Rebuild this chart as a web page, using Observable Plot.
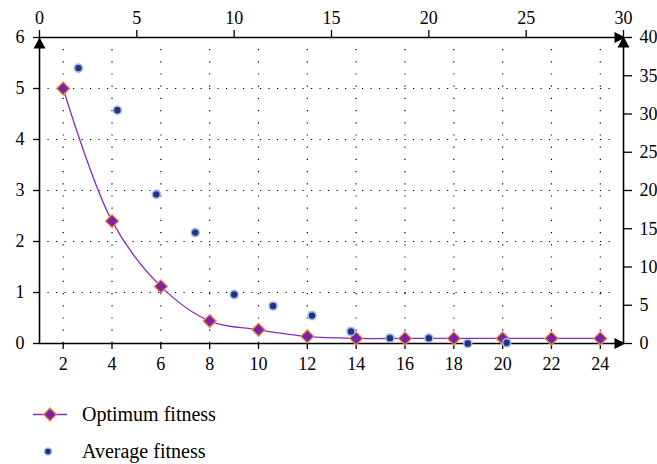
<!DOCTYPE html>
<html>
<head>
<meta charset="utf-8">
<script src="https://cdn.jsdelivr.net/npm/d3@7"></script>
<script src="https://cdn.jsdelivr.net/npm/@observablehq/plot@0.6"></script>
</head>
<body style="margin:0">
<div id="wrap" style="position:relative;width:657px;height:464px;overflow:hidden"></div>
<script>
// ---- data ----
const generations = [2, 4, 6, 8, 10, 12, 14, 16, 18, 20, 22, 24];          // bottom axis
const optimumFitness = [5.0, 2.40, 1.12, 0.44, 0.27, 0.14, 0.10, 0.10, 0.10, 0.10, 0.10, 0.10]; // left axis
const averageX = [2, 4, 6, 8, 10, 12, 14, 16, 18, 20, 22, 24];           // top axis
const averageFitness = [36.0, 30.5, 19.5, 14.5, 6.4, 4.9, 3.65, 1.57, 0.7, 0.7, 0.0, 0.1]; // right axis

const bottomTicks = [2, 4, 6, 8, 10, 12, 14, 16, 18, 20, 22, 24];
const leftTicks = [0, 1, 2, 3, 4, 5, 6];
const topTicks = [0, 5, 10, 15, 20, 25, 30];
const rightTicks = [0, 5, 10, 15, 20, 25, 30, 35, 40];
const gridY = [1, 2, 3, 4, 5];
const seriesNames = ["Optimum fitness", "Average fitness"];

const optimumData = generations.map((g, i) => ({x: g, y: optimumFitness[i]}));
const averageData = averageX.map((g, i) => ({x: g, y: averageFitness[i]}));

const W = 657, H = 380;
const margins = {marginTop: 37, marginRight: 34, marginBottom: 37, marginLeft: 39};
const xBottomDomain = [1.03, 24.95];
const FONT = '"Liberation Serif", monospace';
const style = {fontFamily: FONT, fontSize: "18px", background: "transparent", overflow: "visible", color: "#000", position: "absolute", left: "0px", top: "0px"};
const fmt = d => String(d);

const LINE = "#8a2bbf", DFILL = "#7a22a8", DSTROKE = "#f0913a";
const DOTFILL = "#283080", DOTSTROKE = "#92bce8";

// custom arrow-head symbols with the tip at the origin
const arrowUp = {draw(ctx) { ctx.moveTo(0, 0); ctx.lineTo(-6, 11); ctx.lineTo(6, 11); ctx.closePath(); }};
const arrowRight = {draw(ctx) { ctx.moveTo(0, 0); ctx.lineTo(-11, -5.5); ctx.lineTo(-11, 5.5); ctx.closePath(); }};
const diamond = {draw(ctx) { ctx.moveTo(0, -6.5); ctx.lineTo(6.5, 0); ctx.lineTo(0, 6.5); ctx.lineTo(-6.5, 0); ctx.closePath(); }};

const wrap = document.getElementById("wrap");

// ---- layer 1: bottom / left scales, optimum fitness ----
const p1 = Plot.plot({
  width: W, height: H, ...margins, style,
  x: {type: "linear", domain: xBottomDomain},
  y: {type: "linear", domain: [0, 6]},
  marks: [
    Plot.ruleX(bottomTicks, {stroke: "#000", strokeWidth: 1.2, strokeDasharray: "1.2,11", strokeDashoffset: -12}),
    Plot.ruleY(gridY, {x1: xBottomDomain[0], x2: 24.7, stroke: "#000", strokeWidth: 1.2, strokeDasharray: "1.2,7.3"}),
    Plot.axisX({anchor: "bottom", ticks: bottomTicks, tickFormat: fmt, tickSize: 6, tickPadding: 8, label: null, strokeWidth: 1.3}),
    Plot.axisY({anchor: "left", ticks: leftTicks, tickFormat: fmt, tickSize: 6, tickPadding: 9, label: null, strokeWidth: 1.3}),
    Plot.ruleX([xBottomDomain[0]], {stroke: "#000", strokeWidth: 1.6}),
    Plot.ruleY([0], {x1: xBottomDomain[0], x2: 24.7, stroke: "#000", strokeWidth: 1.6}),
    Plot.line(optimumData, {x: "x", y: "y", stroke: LINE, strokeWidth: 1.3, curve: "catmull-rom"}),
    Plot.dot(optimumData, {x: "x", y: "y", symbol: diamond, fill: DFILL, stroke: DSTROKE, strokeWidth: 1.3, r: 6}),
    Plot.dot([{x: xBottomDomain[0], y: 6}], {x: "x", y: "y", symbol: arrowUp, fill: "#000", stroke: "none"}),
    Plot.dot([{x: xBottomDomain[1], y: 0}], {x: "x", y: "y", symbol: arrowRight, fill: "#000", stroke: "none", dx: 2})
  ]
});
wrap.appendChild(p1);

// ---- layer 2: top / right scales, average fitness ----
const p2 = Plot.plot({
  width: W, height: H, ...margins, style,
  x: {type: "linear", domain: [0, 30]},
  y: {type: "linear", domain: [0, 40]},
  marks: [
    Plot.axisX({anchor: "top", ticks: topTicks, tickFormat: fmt, tickSize: 8, tickPadding: 6, label: null, strokeWidth: 1.3}),
    Plot.axisY({anchor: "right", ticks: rightTicks, tickFormat: fmt, tickSize: 8, tickPadding: 8, label: null, strokeWidth: 1.3}),
    Plot.ruleX([30], {stroke: "#000", strokeWidth: 1.6}),
    Plot.ruleY([40], {x1: 0, x2: 29.6, stroke: "#000", strokeWidth: 1.6}),
    Plot.dot(averageData, {x: "x", y: "y", r: 4, fill: DOTFILL, stroke: DOTSTROKE, strokeWidth: 1.6}),
    Plot.dot([{x: 30, y: 40}], {x: "x", y: "y", symbol: arrowRight, fill: "#000", stroke: "none", dx: 2, dy: 0}),
    Plot.dot([{x: 30, y: 40}], {x: "x", y: "y", symbol: arrowUp, fill: "#000", stroke: "none", dy: -1})
  ]
});
wrap.appendChild(p2);

// ---- legend (HTML labels, SVG swatches) ----
const legendDiv = document.createElement("div");
legendDiv.style.position = "absolute"; legendDiv.style.left = "0px"; legendDiv.style.top = "395px";
legendDiv.style.width = "300px"; legendDiv.style.height = "69px";
wrap.appendChild(legendDiv);
const sw = d3.select(legendDiv).append("svg").attr("width", 80).attr("height", 69)
  .style("position", "absolute").style("left", "0px").style("top", "0px");
const g1 = sw.append("g").attr("transform", "translate(0,19.5)");
g1.append("line").attr("x1", 33).attr("x2", 67).attr("stroke", LINE).attr("stroke-width", 1.3);
g1.append("path").attr("d", "M50,-6.5L56.5,0L50,6.5L43.5,0Z").attr("fill", DFILL).attr("stroke", DSTROKE).attr("stroke-width", 1.3);
const g2 = sw.append("g").attr("transform", "translate(0,56.5)");
g2.append("circle").attr("cx", 48).attr("r", 3.5).attr("fill", DOTFILL).attr("stroke", DOTSTROKE).attr("stroke-width", 1.4);
[[seriesNames[0], 8], [seriesNames[1], 45]].forEach(([name, top]) => {
  const d = document.createElement("div");
  d.style.position = "absolute"; d.style.left = "82px"; d.style.top = top + "px";
  d.style.fontFamily = FONT; d.style.fontSize = "20px"; d.style.lineHeight = "22px"; d.style.whiteSpace = "nowrap";
  d.textContent = name;
  legendDiv.appendChild(d);
});
</script>
</body>
</html>
